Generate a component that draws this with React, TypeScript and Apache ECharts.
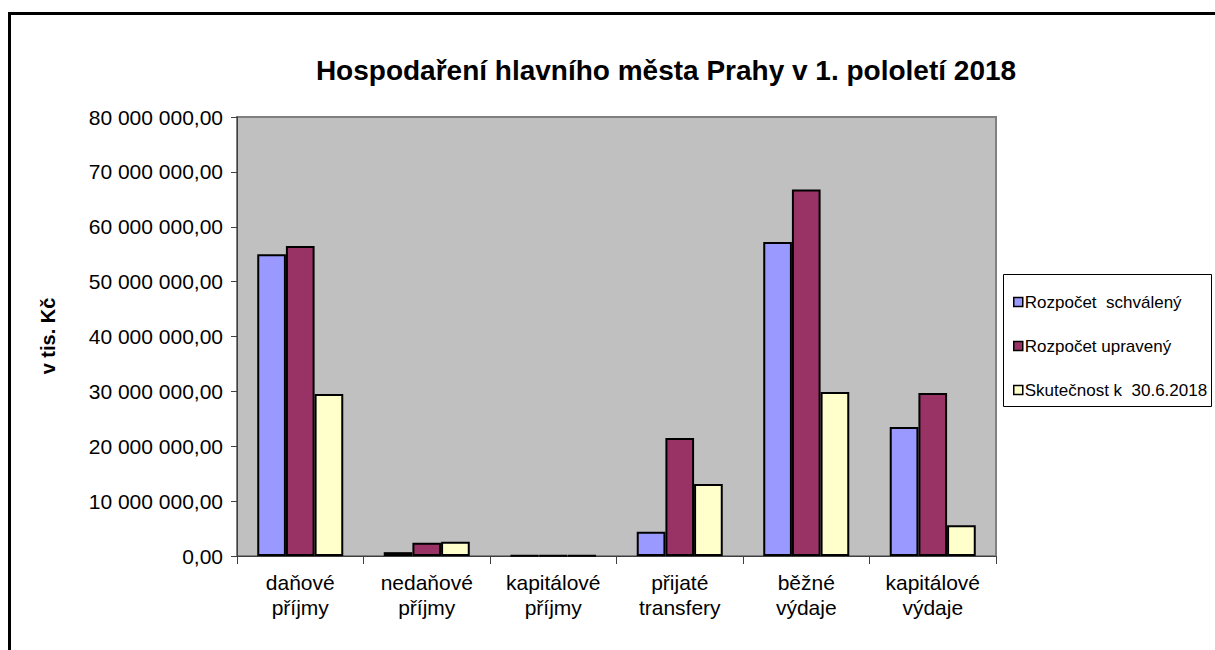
import React, { useEffect, useRef } from "react";
import * as echarts from "echarts";

const categories = [
  "daňové\npříjmy",
  "nedaňové\npříjmy",
  "kapitálové\npříjmy",
  "přijaté\ntransfery",
  "běžné\nvýdaje",
  "kapitálové\nvýdaje",
];
const schvaleny = [55000000, 700000, 100000, 4400000, 57200000, 23500000];
const upraveny = [56500000, 2400000, 100000, 21500000, 66800000, 29700000];
const skutecnost = [29500000, 2600000, 100000, 13100000, 29900000, 5600000];
const seriesNames = ["Rozpočet  schválený", "Rozpočet upravený", "Skutečnost k  30.6.2018"];
const colors = ["#9999FF", "#993366", "#FFFFCC"];

function fmt(v: number): string {
  const s = Math.round(v).toString().replace(/\B(?=(\d{3})+(?!\d))/g, " ");
  return s + ",00";
}

export default function App() {
  const ref = useRef<HTMLDivElement>(null);
  useEffect(() => {
    if (!ref.current) return;
    const chart = echarts.init(ref.current, undefined, { renderer: "svg" });
    const font = "'Liberation Sans', Arial, sans-serif";
    const datas = [schvaleny, upraveny, skutecnost];
    chart.setOption({
      animation: false,
      backgroundColor: "#fff",
      textStyle: { fontFamily: font },
      title: {
        text: "Hospodaření hlavního města Prahy v 1. pololetí 2018",
        left: 661,
        textAlign: "center",
        top: 51,
        textStyle: { fontSize: 28, fontWeight: "bold", color: "#000", fontFamily: font },
      },
      grid: {
        left: 237,
        top: 117,
        right: 219,
        bottom: 94,
        show: true,
        backgroundColor: "#C0C0C0",
        borderColor: "#808080",
        borderWidth: 2,
      },
      legend: {
        orient: "vertical",
        left: 1008,
        top: 287,
        itemWidth: 9,
        itemHeight: 9,
        itemGap: 24,
        icon: "rect",
        itemStyle: { borderColor: "#000", borderWidth: 1.5 },
        textStyle: { fontSize: 17, color: "#000", lineHeight: 20, fontFamily: font, padding: [0, 0, 0, -3] },
        data: seriesNames,
      },
      xAxis: {
        type: "category",
        data: categories,
        axisLine: { lineStyle: { color: "#404040", width: 1 } },
        axisTick: { show: true, alignWithLabel: false, length: 8, lineStyle: { color: "#404040" } },
        axisLabel: { color: "#000", fontSize: 21, lineHeight: 25, margin: 14, fontFamily: font },
        splitLine: { show: false },
      },
      yAxis: {
        type: "value",
        min: 0,
        max: 80000000,
        interval: 10000000,
        axisLine: { show: true, lineStyle: { color: "#404040", width: 1 } },
        axisTick: { show: true, length: 6, lineStyle: { color: "#404040" } },
        axisLabel: { color: "#000", fontSize: 21, margin: 14, formatter: (v: number) => fmt(v), fontFamily: font },
        splitLine: { show: false },
      },
      graphic: [
        {
          type: "rect",
          shape: { x: 9.5, y: 13.5, width: 1220, height: 660 },
          style: { fill: "none", stroke: "#000", lineWidth: 3 },
          silent: true,
          z: -1,
        },
        {
          type: "rect",
          shape: { x: 1003.5, y: 274.5, width: 208, height: 132 },
          style: { fill: "#fff", stroke: "#000", lineWidth: 1 },
          silent: true,
          z: 0,
        },
        {
          type: "text",
          x: 48,
          y: 336,
          rotation: Math.PI / 2,
          style: {
            text: "v tis. Kč",
            fontSize: 20,
            fontWeight: "bold",
            fontFamily: font,
            fill: "#000",
            align: "center",
            verticalAlign: "middle",
          },
        },
      ],
      series: datas.map((d, i) => ({
        name: seriesNames[i],
        type: "bar",
        data: d,
        barGap: "0%",
        barCategoryGap: "32%",
        itemStyle: { color: colors[i], borderColor: "#000", borderWidth: 2 },
      })),
    });
    return () => chart.dispose();
  }, []);
  return <div ref={ref} style={{ position: "fixed", left: 0, top: 0, width: 1215, height: 650 }} />;
}
